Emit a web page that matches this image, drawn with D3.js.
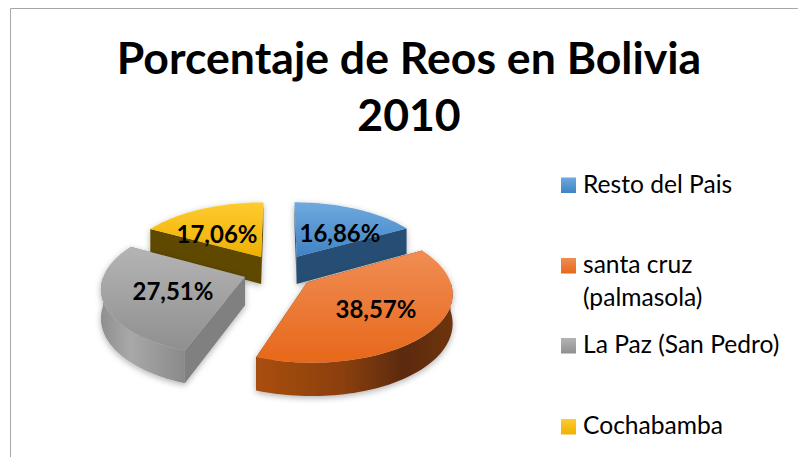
<!DOCTYPE html>
<html>
<head>
<meta charset="utf-8">
<script src="https://cdn.jsdelivr.net/npm/d3@7"></script>
<style>
  html, body { margin: 0; padding: 0; background: #fff; }
  svg { display: block; }
  text { font-family: Lato, "Open Sans", sans-serif; fill: #000; }
</style>
</head>
<body>
<div id="chart"></div>
<script>
/* Exploded 3D pie, Porcentaje de Reos en Bolivia 2010 */

// data
const categories = ["Resto del Pais", "santa cruz (palmasola)", "La Paz (San Pedro)", "Cochabamba"];
const values = [16.86, 38.57, 27.51, 17.06];
const titleLines = ["Porcentaje de Reos en Bolivia", "2010"];

// colours per slice: top face light/dark, side wall, cut face
const topLight = ["#6fa9de", "#f08d54", "#b4b4b4", "#ffcb30"];
const topDark = ["#3f83c3", "#e7681a", "#8f8f8f", "#efb000"];
const cutColor = ["#274e73", "#6b3210", "#808080", "#5f4a03"];

const width = 798, height = 457;

// pie placement and fake perspective
const cx = 279, cy = 271, radius = 140, explode = 36;
const tilt = 0.47, viewDist = 1000, depth = 28;

const svg = d3.select("#chart")
  .append("svg")
  .attr("width", width)
  .attr("height", height);

const defs = svg.append("defs");

const shadow = defs.append("filter").attr("id", "shadow")
  .attr("x", "-20%").attr("y", "-20%").attr("width", "140%").attr("height", "150%");
shadow.append("feDropShadow")
  .attr("dx", 0).attr("dy", 2).attr("stdDeviation", 3)
  .attr("flood-color", "#000").attr("flood-opacity", 0.3);

// chart frame, only top and left edge are in view
svg.append("path")
  .attr("d", d3.line()([[10.5, height], [10.5, 8.5], [width, 8.5]]))
  .attr("fill", "none")
  .attr("stroke", "#a6a6a6")
  .attr("stroke-width", 1);

// title
svg.append("g").selectAll("text")
  .data(titleLines)
  .join("text")
  .attr("x", 409)
  .attr("y", (d, i) => 74 + i * 57)
  .attr("text-anchor", "middle")
  .attr("font-size", 44.6)
  .attr("font-weight", 700)
  .text(d => d);

const pie = d3.pie().sort(null).value(d => d);
const arcs = pie(values);

// angle + distance from slice apex -> screen point, z goes down the wall
function project(a, r, mid, z) {
  const X = Math.sin(a) * r + Math.sin(mid) * explode;
  const Y = Math.cos(a) * r + Math.cos(mid) * explode;
  const f = 1 / (1 + Y / viewDist);
  return [cx + X * f, cy - Y * tilt * f + z * f];
}

function arcPoints(d, z, from, to) {
  const mid = (d.startAngle + d.endAngle) / 2;
  const a0 = from === undefined ? d.startAngle : from;
  const a1 = to === undefined ? d.endAngle : to;
  const n = Math.max(2, Math.ceil((a1 - a0) / 0.03));
  return d3.range(n + 1).map(i => project(a0 + (a1 - a0) * i / n, radius, mid, z));
}

const line = d3.line();
const closed = pts => line(pts) + "Z";

// gradients
arcs.forEach((d, i) => {
  const g = defs.append("linearGradient").attr("id", "top" + i)
    .attr("x1", 0).attr("y1", 0).attr("x2", 0).attr("y2", 1);
  g.append("stop").attr("offset", "0%").attr("stop-color", topLight[i]);
  g.append("stop").attr("offset", "100%").attr("stop-color", topDark[i]);
});

const wallStops = [
  [["0%", "#2a5680"], ["100%", "#244a6e"]],
  [["0%", "#a94e12"], ["45%", "#8a3f0f"], ["75%", "#5b2a08"], ["100%", "#6e3410"]],
  [["0%", "#8f8f8f"], ["35%", "#a8a8a8"], ["100%", "#8a8a8a"]],
  [["0%", "#5f4a03"], ["100%", "#5f4a03"]]
];
wallStops.forEach((stops, i) => {
  const g = defs.append("linearGradient").attr("id", "wall" + i)
    .attr("x1", 0).attr("y1", 0).attr("x2", 1).attr("y2", 0);
  stops.forEach(s => g.append("stop").attr("offset", s[0]).attr("stop-color", s[1]));
});

// back slices first, so front ones paint over them
const drawOrder = [3, 0, 2, 1];

const slices = svg.append("g")
  .selectAll("g")
  .data(drawOrder.map(i => arcs[i]))
  .join("g")
  .attr("filter", "url(#shadow)");

slices.each(function(d) {
  const g = d3.select(this);
  const i = d.index;
  const mid = (d.startAngle + d.endAngle) / 2;
  const apexTop = project(0, 0, mid, 0);
  const apexBot = project(0, 0, mid, depth);

  // two cut faces
  [d.startAngle, d.endAngle].forEach(a => {
    g.append("path")
      .attr("d", closed([apexTop, project(a, radius, mid, 0), project(a, radius, mid, depth), apexBot]))
      .attr("fill", cutColor[i]);
  });

  // round outer wall, front half only
  const from = Math.max(d.startAngle, Math.PI / 2);
  const to = Math.min(d.endAngle, Math.PI * 3 / 2);
  if (from < to) {
    g.append("path")
      .attr("d", closed(arcPoints(d, 0, from, to).concat(arcPoints(d, depth, from, to).reverse())))
      .attr("fill", "url(#wall" + i + ")");
  }

  // top face
  g.append("path")
    .attr("d", closed([apexTop].concat(arcPoints(d, 0))))
    .attr("fill", "url(#top" + i + ")");
});

// data labels, turned and pushed a bit off the slice middle like the original
const pctFormat = d3.formatLocale({decimal: ",", thousands: ".", grouping: [3], currency: ["", ""]}).format(".2f");
const labelTurn = [0.19, 0, -0.05, -0.2];
const labelReach = [0.52, 0.58, 0.53, 0.52];
svg.append("g").selectAll("text")
  .data(arcs)
  .join("text")
  .attr("transform", d => {
    const mid = (d.startAngle + d.endAngle) / 2;
    const p = project(mid + labelTurn[d.index], radius * labelReach[d.index], mid, 0);
    return "translate(" + p[0] + "," + p[1] + ")";
  })
  .attr("dy", "0.35em")
  .attr("text-anchor", "middle")
  .attr("font-size", 24)
  .attr("font-weight", 700)
  .text(d => pctFormat(d.data) + "%");

// legend
const legendRows = [185.5, 266, 346, 427];
const legendLines = [["Resto del Pais"], ["santa cruz", "(palmasola)"], ["La Paz (San Pedro)"], ["Cochabamba"]];

topLight.forEach((c, i) => {
  const g = defs.append("linearGradient").attr("id", "sw" + i)
    .attr("x1", 0).attr("y1", 0).attr("x2", 0).attr("y2", 1);
  g.append("stop").attr("offset", "0%").attr("stop-color", c);
  g.append("stop").attr("offset", "100%").attr("stop-color", topDark[i]);
});

const legend = svg.append("g").selectAll("g")
  .data(categories)
  .join("g")
  .attr("transform", (d, i) => "translate(561," + legendRows[i] + ")");

legend.append("rect")
  .attr("y", -8)
  .attr("width", 15)
  .attr("height", 15.5)
  .attr("fill", (d, i) => "url(#sw" + i + ")");

legend.each(function(d, i) {
  d3.select(this).selectAll("text")
    .data(legendLines[i])
    .join("text")
    .attr("x", 22)
    .attr("y", (t, j) => 7 + j * 33)
    .attr("font-size", 24.6)
    .text(t => t);
});
</script>
</body>
</html>
